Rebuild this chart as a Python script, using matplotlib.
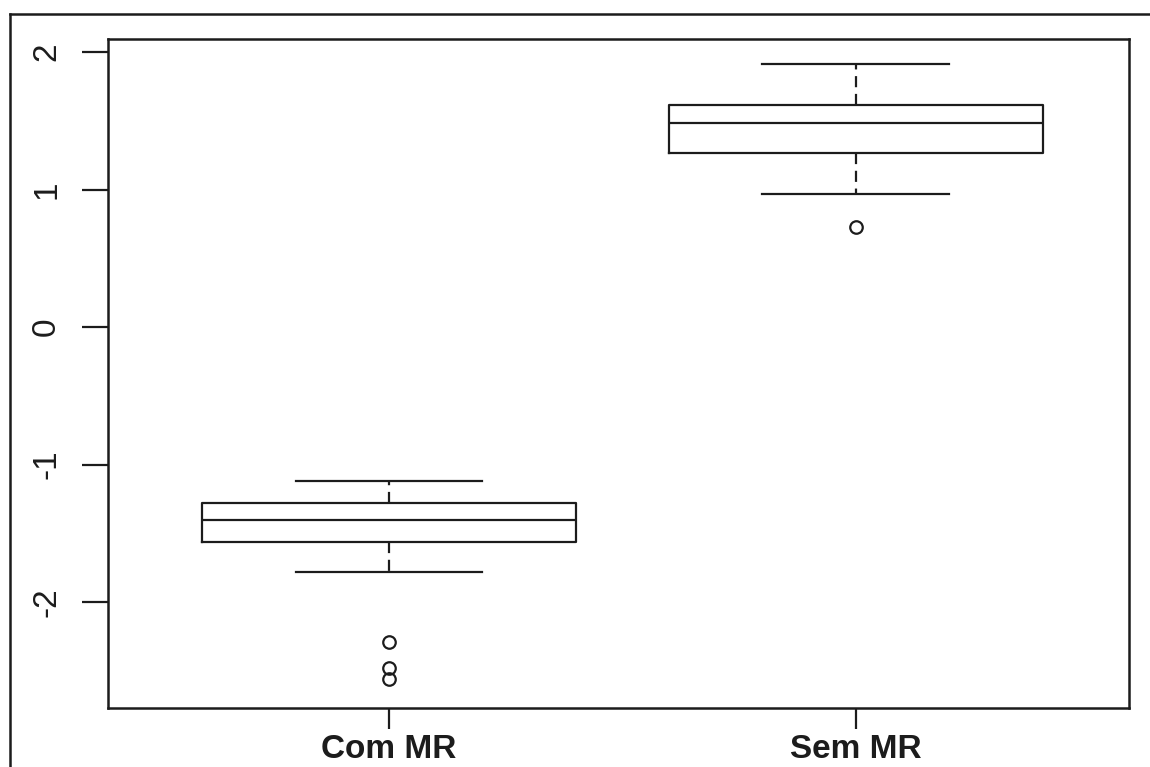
import matplotlib
matplotlib.use("Agg")
import matplotlib.pyplot as plt
from matplotlib.lines import Line2D

# Groups and five-number summaries
groups = ["Com MR", "Sem MR"]
whisker_low = [-1.782, 0.967]
q1 = [-1.564, 1.265]
median = [-1.404, 1.484]
q3 = [-1.280, 1.615]
whisker_high = [-1.120, 1.913]
outliers = [[-2.291, -2.48, -2.56], [0.727]]

y_ticks = [-2, -1, 0, 1, 2]

ink = "#1c1c1c"
plt.rcParams["font.family"] = ["Liberation Sans", "DejaVu Sans"]

fig = plt.figure(figsize=(11.5, 7.67), dpi=100)
ax = fig.add_axes([0.0939, 0.0769, 0.8878, 0.8723])

stats = []
for i, g in enumerate(groups):
    stats.append(dict(label=g, whislo=whisker_low[i], q1=q1[i], med=median[i],
                      q3=q3[i], whishi=whisker_high[i], fliers=outliers[i]))

lw = 1.6
ax.bxp(stats, positions=[1, 2], widths=0.8, capwidths=0.4,
       boxprops=dict(color=ink, linewidth=lw),
       medianprops=dict(color=ink, linewidth=lw),
       whiskerprops=dict(color=ink, linewidth=lw, linestyle=(0, (5, 3))),
       capprops=dict(color=ink, linewidth=lw),
       flierprops=dict(marker="o", markerfacecolor="none", markeredgecolor=ink,
                       markersize=9, markeredgewidth=1.6, linestyle="none"))

ax.set_xlim(0.398, 2.585)
ax.set_ylim(-2.771, 2.095)

ax.set_yticks(y_ticks)
ax.set_yticklabels([str(t) for t in y_ticks], rotation=90, va="center", fontsize=24)
ax.set_xticks([1, 2])
ax.set_xticklabels(groups, fontsize=24, fontweight="bold")

ax.tick_params(axis="y", length=19, width=1.6, pad=14, colors=ink)
ax.tick_params(axis="x", length=15, width=1.6, pad=4, colors=ink)

for s in ax.spines.values():
    s.set_linewidth(1.8)
    s.set_color(ink)

# Outer page frame (top and left edges)
fig.add_artist(Line2D([10 / 1150, 1.0], [1 - 14 / 767, 1 - 14 / 767],
                      transform=fig.transFigure, color=ink, linewidth=1.8))
fig.add_artist(Line2D([10 / 1150, 10 / 1150], [0.0, 1 - 14 / 767],
                      transform=fig.transFigure, color=ink, linewidth=1.8))

fig.savefig("out.png", dpi=100)
